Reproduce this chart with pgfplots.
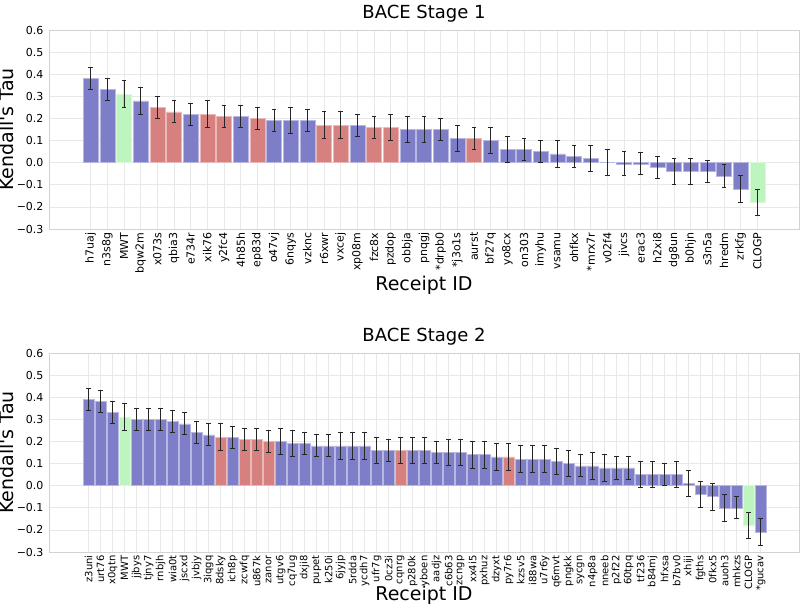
\documentclass[border=0pt]{standalone}
\usepackage{pgfplots}
\pgfplotsset{compat=1.18}
\usepackage{fontspec}
\setmainfont{DejaVu Sans}[Ligatures=TeXOff]
\definecolor{bB}{RGB}{125,125,200}
\definecolor{bR}{RGB}{215,128,128}
\definecolor{bG}{RGB}{190,245,190}
\pgfplotsset{
  kt/.style={
    scale only axis, width=750pt, height=199pt,
    ymin=-0.3, ymax=0.6,
    ytick={-0.3,-0.2,-0.1,0,0.1,0.2,0.3,0.4,0.5,0.6},
    yticklabels={−0.3,−0.2,−0.1,0.0,0.1,0.2,0.3,0.4,0.5,0.6},
    xmajorgrids, ymajorgrids,
    grid style={gray!18, line width=0.6pt},
    axis line style={gray!35, line width=0.8pt},
    major tick length=0pt,
    tick label style={font=\fontsize{11}{12}\selectfont},
    xticklabel style={rotate=90, anchor=east},
    yticklabel style={xshift=-2pt},
    ylabel={Kendall's Tau},
    xlabel={Receipt ID},
    label style={font=\fontsize{19}{21}\selectfont},
    title style={font=\fontsize{18}{20}\selectfont, yshift=-2pt},
    ylabel style={yshift=-4pt},
    xlabel style={yshift=4pt},
    axis on top=false,
  },
  kb/.style={ybar, bar shift=0pt, bar width=0.9, fill=#1, draw=#1!55!white, line width=0.5pt,
    error bars/.cd, y dir=both, y explicit,
    error bar style={black!85, line width=0.9pt},
    error mark options={black!85, rotate=90, mark size=2.2pt, line width=0.9pt}},
}
\begin{document}
\begin{tikzpicture}
\useasboundingbox (-49pt,30pt) rectangle (751pt,-584pt);
\begin{axis}[kt, at={(0,0)}, anchor=north west,
  title={BACE Stage 1},
  xmin=-2.5, xmax=42.5,
  xtick={0,...,40},
  xticklabels={h7uaj,n3s8g,MWT,bqw2m,x073s,qbia3,e734r,xik76,y2fc4,4h85h,ep83d,o47vj,6nqys,vzknc,r6xwr,vxcej,xp08m,fzc8x,pzdop,obbja,pnqgj,*drpb0,*j3o1s,aurst,bf27q,yo8cx,on303,imyhu,vsamu,ohfkx,*mrx7r,v02f4,jivcs,erac3,h2xi8,dg8un,b0hjn,s3n5a,hredm,zrkfg,CLOGP},
]
\addplot[kb=bB] coordinates {
(0,0.38) +- (0,0.05)
(1,0.33) +- (0,0.05)
(3,0.28) +- (0,0.06)
(6,0.22) +- (0,0.05)
(9,0.21) +- (0,0.05)
(11,0.19) +- (0,0.05)
(12,0.19) +- (0,0.06)
(13,0.19) +- (0,0.05)
(16,0.17) +- (0,0.05)
(19,0.15) +- (0,0.06)
(20,0.15) +- (0,0.06)
(21,0.15) +- (0,0.05)
(22,0.11) +- (0,0.06)
(24,0.10) +- (0,0.06)
(25,0.06) +- (0,0.06)
(26,0.06) +- (0,0.05)
(27,0.05) +- (0,0.05)
(28,0.04) +- (0,0.06)
(29,0.03) +- (0,0.05)
(30,0.02) +- (0,0.06)
(31,0.00) +- (0,0.06)
(32,-0.005) +- (0,0.055)
(33,-0.005) +- (0,0.05)
(34,-0.02) +- (0,0.05)
(35,-0.04) +- (0,0.06)
(36,-0.04) +- (0,0.06)
(37,-0.04) +- (0,0.05)
(38,-0.06) +- (0,0.05)
(39,-0.12) +- (0,0.06)
};
\addplot[kb=bR] coordinates {
(4,0.25) +- (0,0.05)
(5,0.23) +- (0,0.05)
(7,0.22) +- (0,0.06)
(8,0.21) +- (0,0.05)
(10,0.20) +- (0,0.05)
(14,0.17) +- (0,0.06)
(15,0.17) +- (0,0.06)
(17,0.16) +- (0,0.05)
(18,0.16) +- (0,0.06)
(23,0.11) +- (0,0.05)
};
\addplot[kb=bG] coordinates {
(2,0.31) +- (0,0.06)
(40,-0.18) +- (0,0.06)
};
\end{axis}
\begin{axis}[kt, at={(0,-323pt)}, anchor=north west,
  title={BACE Stage 2},
  xmin=-3.3, xmax=59.2,
  xtick={0,...,56},
  xticklabel style={font=\fontsize{10}{11}\selectfont},
  xlabel style={at={(axis description cs:0.5,0)}, anchor=north, yshift=-35pt},
  xticklabels={z3uni,urt76,x0qtn,MWT,jjbys,tjny7,rnbjh,wia0t,jscxd,jvbjy,3iqgq,8dsky,ich8p,zcwfq,u867k,zanor,utgv6,cq7ug,dxji8,pupet,k250i,6jyjp,5rdda,ycdh7,ufr7g,0cz3i,cqnrg,p280k,yboen,aadjz,c6b63,zcngp,xx4i5,pxhuz,dzyxt,py7r6,kzsv5,i88wa,u7r6y,q6mvt,pngkk,sycgn,n4p8a,nneeb,p2f22,60tpq,tf236,b84mj,hfxsa,b7bv0,xhiji,fgths,0fkx5,auoh3,mhkzs,CLOGP,*gucav},
]
\addplot[kb=bB] coordinates {
(0,0.39) +- (0,0.05)
(1,0.38) +- (0,0.05)
(2,0.33) +- (0,0.05)
(4,0.30) +- (0,0.05)
(5,0.30) +- (0,0.05)
(6,0.30) +- (0,0.05)
(7,0.29) +- (0,0.05)
(8,0.28) +- (0,0.05)
(9,0.24) +- (0,0.05)
(10,0.23) +- (0,0.05)
(12,0.22) +- (0,0.05)
(16,0.20) +- (0,0.06)
(17,0.19) +- (0,0.06)
(18,0.19) +- (0,0.05)
(19,0.18) +- (0,0.05)
(20,0.18) +- (0,0.05)
(21,0.18) +- (0,0.06)
(22,0.18) +- (0,0.06)
(23,0.18) +- (0,0.06)
(24,0.16) +- (0,0.06)
(25,0.16) +- (0,0.05)
(27,0.16) +- (0,0.06)
(28,0.16) +- (0,0.06)
(29,0.15) +- (0,0.05)
(30,0.15) +- (0,0.06)
(31,0.15) +- (0,0.06)
(32,0.14) +- (0,0.06)
(33,0.14) +- (0,0.06)
(34,0.13) +- (0,0.06)
(36,0.12) +- (0,0.06)
(37,0.12) +- (0,0.06)
(38,0.12) +- (0,0.06)
(39,0.11) +- (0,0.06)
(40,0.10) +- (0,0.06)
(41,0.09) +- (0,0.05)
(42,0.09) +- (0,0.06)
(43,0.08) +- (0,0.06)
(44,0.08) +- (0,0.05)
(45,0.08) +- (0,0.05)
(46,0.05) +- (0,0.06)
(47,0.05) +- (0,0.06)
(48,0.05) +- (0,0.05)
(49,0.05) +- (0,0.06)
(50,0.01) +- (0,0.06)
(51,-0.04) +- (0,0.06)
(52,-0.05) +- (0,0.06)
(53,-0.10) +- (0,0.06)
(54,-0.10) +- (0,0.05)
(56,-0.21) +- (0,0.06)
};
\addplot[kb=bR] coordinates {
(11,0.22) +- (0,0.06)
(13,0.21) +- (0,0.05)
(14,0.21) +- (0,0.05)
(15,0.20) +- (0,0.05)
(26,0.16) +- (0,0.06)
(35,0.13) +- (0,0.06)
};
\addplot[kb=bG] coordinates {
(3,0.31) +- (0,0.06)
(55,-0.18) +- (0,0.06)
};
\end{axis}
\end{tikzpicture}
\end{document}
